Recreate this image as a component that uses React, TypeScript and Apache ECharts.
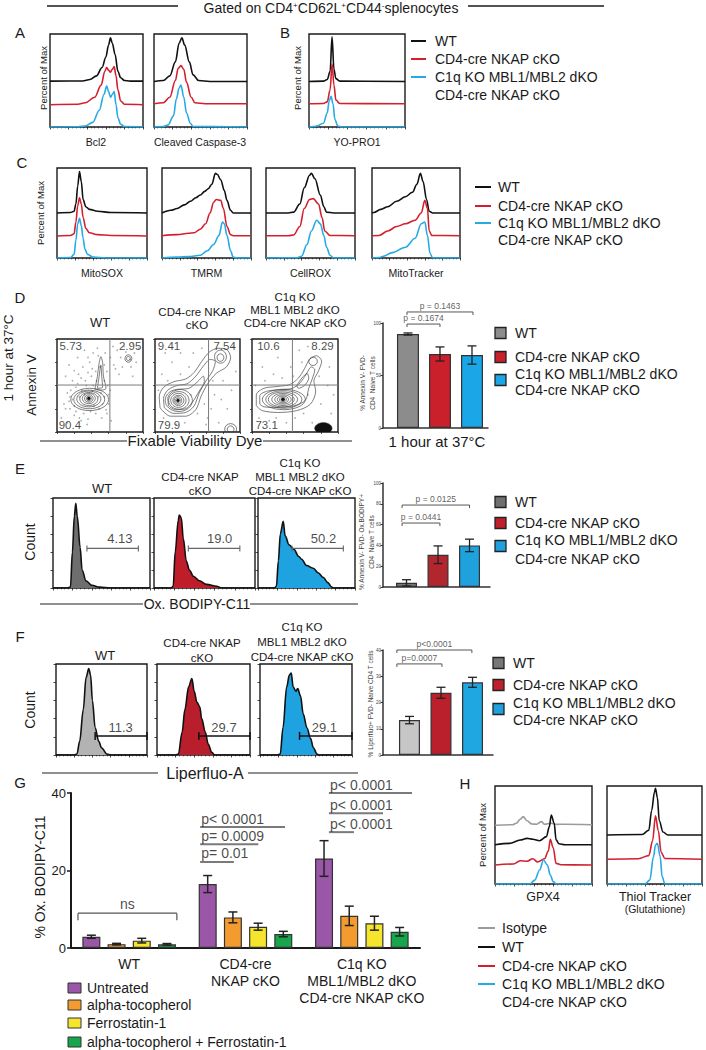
import React, { useEffect, useRef } from "react";
import * as echarts from "echarts";

const FONT = "'Liberation Sans', Arial, Helvetica, sans-serif";
const INK = "#1a1a1a";
const COL_WT = "#111111";
const COL_CKO = "#d3202e";
const COL_DKO = "#26aae3";
const COL_ISO = "#9b9b9b";

// ---------------- legends / titles ----------------
const GENO_LEGEND = [["WT"], ["CD4-cre NKAP cKO"], ["C1q KO MBL1/MBL2 dKO", "CD4-cre NKAP cKO"]];
const COL_TITLES = [["WT"], ["CD4-cre NKAP", "cKO"], ["C1q KO", "MBL1 MBL2 dKO", "CD4-cre NKAP cKO"]];

// ---------------- A / B : stacked histograms (x: % of axis, y: % of panel; WT offset 50, cKO offset 25) ----------------
const A_BCL2_WT = [[0, 49.3], [35, 49.5], [43, 51], [50, 55], [56, 64], [60, 75], [63, 88], [65, 96], [67, 90], [70, 78], [73, 60], [76, 53], [80, 50], [86, 49.3], [100, 49.3]];
const A_BCL2_CKO = [[0, 24], [30, 24.5], [38, 26], [48, 32], [55, 45], [59, 60], [61, 64], [63, 61], [65, 59], [67, 62], [69, 65], [71, 55], [73, 40], [76, 28], [80, 24.5], [100, 24]];
const A_BCL2_DKO = [[0, 0], [30, 0.3], [38, 1], [46, 5], [53, 18], [58, 35], [61, 44], [63, 38], [65, 32], [67, 35], [69, 38], [71, 24], [73, 10], [76, 3], [80, 0.5], [100, 0]];
const A_CASP_WT = [[0, 49], [10, 50], [17, 55], [23, 70], [27, 90], [30, 96], [33, 88], [38, 70], [42, 56], [48, 50], [60, 49], [100, 49]];
const A_CASP_CKO = [[0, 25], [10, 26], [17, 32], [23, 50], [26, 63], [29, 66], [32, 62], [35, 48], [40, 32], [44, 26], [55, 25], [100, 25]];
const A_CASP_DKO = [[0, 0], [10, 0.5], [15, 2], [21, 12], [24, 30], [27, 42], [29, 45], [32, 32], [35, 15], [39, 4], [42, 0.5], [100, 0]];
const B_YOPRO_WT = [[0, 49], [15, 49.3], [19, 51], [22, 60], [24, 97], [26, 62], [28, 52], [32, 49.3], [100, 49]];
const B_YOPRO_CKO = [[0, 25], [15, 25.3], [19, 27], [22, 40], [24, 68], [26, 45], [28, 29], [32, 25.2], [100, 25]];
const B_YOPRO_DKO = [[0, 0], [5, 0.5], [8, 1], [15, 4], [19, 15], [21, 28], [23, 33], [25, 25], [27, 8], [30, 1], [34, 0], [100, 0]];

// ---------------- C : stacked histograms ----------------
const C_MITOSOX_WT = [[0, 50], [15, 50.5], [19, 52], [21, 60], [23, 80], [25, 96], [27, 85], [29, 65], [32, 57], [36, 54], [45, 52], [60, 50.5], [100, 50]];
const C_MITOSOX_CKO = [[0, 24.5], [15, 25], [19, 27], [21, 40], [23, 58], [25, 67], [27, 60], [29, 45], [32, 33], [36, 28], [45, 26], [60, 25], [100, 24.5]];
const C_MITOSOX_DKO = [[0, 0], [15, 0.5], [19, 4], [21, 20], [23, 38], [25, 44], [27, 36], [29, 22], [31, 10], [34, 4], [40, 1], [55, 0], [100, 0]];
const C_TMRM_WT = [[0, 50], [10, 53], [17, 55], [25, 59], [32, 63], [38, 67], [43, 70], [48, 74], [52, 77], [56, 82], [60, 94], [62, 93], [66, 87], [70, 75], [73, 64], [77, 53], [80, 50], [100, 50]];
const C_TMRM_CKO = [[0, 24.8], [17, 26], [30, 27.5], [36, 28], [43, 32], [49, 38], [54, 50], [58, 62], [61, 65], [66, 64], [69, 55], [73, 35], [77, 26], [80, 24.8], [100, 24.8]];
const C_TMRM_DKO = [[0, 0], [17, 1], [30, 1.5], [43, 3], [51, 8], [58, 15], [64, 25], [68, 40], [70, 38], [73, 25], [77, 8], [80, 1], [84, 0], [100, 0]];
const C_CELLROX_WT = [[0, 50], [25, 50], [31, 51], [38, 60], [43, 78], [49, 92], [51, 94], [55, 88], [61, 70], [65, 57], [68, 51], [76, 50], [100, 50]];
const C_CELLROX_CKO = [[0, 24.8], [25, 24.8], [31, 25.5], [38, 35], [43, 55], [49, 65], [53, 66], [59, 60], [63, 45], [66, 30], [72, 25], [100, 24.8]];
const C_CELLROX_DKO = [[0, 0], [35, 0.3], [40, 2], [46, 15], [51, 30], [57, 42], [61, 38], [65, 25], [68, 12], [72, 3], [76, 0], [100, 0]];
const C_MITOTR_WT = [[0, 50], [2, 50.5], [10, 54], [18, 57], [28, 63], [38, 68], [46, 73], [51, 82], [55, 94], [58, 85], [62, 65], [65, 52], [69, 50], [100, 50]];
const C_MITOTR_CKO = [[0, 24.8], [8, 25], [18, 30], [28, 35], [38, 38], [49, 42], [56, 50], [60, 64], [63, 55], [65, 30], [68, 25], [100, 24.8]];
const C_MITOTR_DKO = [[0, 0], [8, 0.5], [13, 2], [23, 6], [38, 12], [49, 22], [56, 38], [60, 40], [63, 25], [66, 5], [69, 0], [100, 0]];

// ---------------- D : flow plots (x, y in % of axes) ----------------
const D_WT_RINGS = [[38, 35, 22, 12], [37.5, 35, 18, 10], [37, 35.5, 14, 8.5], [37, 35.5, 10.5, 7], [37, 36, 7.5, 5.5], [37, 36, 5, 4], [37, 36, 3, 2.6], [83, 79, 4, 4], [83, 79, 2.2, 2.2]];
const D_WT_CORE = [[37, 36, 1.8, 1.6]];
const D_WT_LOOPS = [
  [[44, 46], [47, 60], [49, 74], [51, 81], [53, 75], [54, 60], [57, 47], [50, 45], [44, 46]],
  [[47, 47], [49, 60], [51, 72], [52, 60], [53, 48], [47, 47]],
];
const D_WT_DOTS = [[8, 30], [12, 42], [15, 25], [18, 55], [20, 18], [22, 48], [25, 62], [28, 12], [30, 70], [33, 55], [35, 8], [40, 60], [42, 85], [45, 20], [47, 90], [52, 15], [55, 55], [58, 65], [60, 30], [63, 12], [10, 60], [14, 72], [24, 80], [32, 88], [38, 75], [56, 85], [66, 72], [70, 88], [74, 80], [78, 92], [86, 70], [90, 85], [88, 60], [72, 62], [5, 15], [48, 38], [26, 38], [18, 35], [62, 45], [42, 50], [20, 66], [36, 64], [58, 20], [12, 10],
  [10, 25], [14, 33], [16, 45], [20, 28], [22, 22], [24, 52], [26, 15], [29, 45], [31, 20], [34, 50], [36, 14], [39, 22], [41, 44], [43, 28], [46, 55], [49, 25], [51, 42], [53, 30], [55, 38], [57, 24], [59, 50], [60, 40], [28, 58], [32, 40], [15, 38], [45, 65], [50, 70], [41, 68], [36, 80], [48, 82], [55, 72], [62, 80], [68, 68], [76, 70], [80, 86], [85, 78], [92, 75], [95, 90], [88, 95], [65, 92]];
const D_WT_NUMS = [[16, 92, "5.73"], [85, 92, "2.95"], [15, 7, "90.4"]];

const D_CKO_RINGS = [[28, 34, 16, 12], [28, 34, 12, 9.5], [27.5, 34, 9, 7.5], [27.5, 34, 6.5, 5.5], [27, 34, 4.5, 4], [27, 34, 2.8, 2.5], [77, 81, 7, 7], [77, 80, 4, 4], [89, 3, 7, 6], [89, 3, 4, 3.5]];
const D_CKO_CORE = [[27, 34, 1.6, 1.4]];
const D_CKO_LOOPS = [
  [[6, 26], [5, 38], [10, 48], [22, 54], [36, 57], [46, 64], [55, 76], [64, 86], [74, 90], [84, 89], [89, 80], [84, 70], [72, 63], [62, 52], [54, 38], [48, 24], [36, 17], [18, 17], [6, 26]],
  [[11, 26], [10, 36], [15, 45], [26, 50], [38, 52], [48, 60], [57, 71], [65, 78], [71, 76], [68, 66], [60, 55], [52, 42], [46, 28], [36, 21], [22, 20], [11, 26]],
  [[16, 28], [15, 36], [20, 43], [30, 46], [40, 47], [50, 54], [57, 60], [58, 54], [52, 44], [44, 32], [36, 25], [24, 24], [16, 28]],
];
const D_CKO_DOTS = [[10, 15], [15, 55], [30, 62], [40, 70], [58, 30], [62, 15], [70, 40], [80, 55], [85, 25], [90, 45], [20, 75], [45, 85], [55, 90], [35, 10], [66, 25], [92, 92], [75, 10], [50, 20], [8, 62], [60, 8], [4, 45], [25, 8], [42, 40], [68, 55], [78, 35], [95, 65], [30, 85], [12, 85]];
const D_CKO_NUMS = [[16.5, 92, "9.41"], [82, 92, "7.54"], [16.5, 7, "79.9"]];

const D_DKO_RINGS = [[37, 35, 25, 11], [37, 35, 21, 9.5], [36, 35, 17, 8], [36, 35, 13, 6.5], [36, 35, 9.5, 5], [36, 35, 6.5, 3.8], [36, 35, 4, 2.6], [71, 76, 5, 4.5]];
const D_DKO_CORE = [[36, 35, 2.2, 1.6], [83, 4, 10, 6]];
const D_DKO_LOOPS = [
  [[5, 28], [5, 40], [14, 47], [30, 49], [44, 51], [54, 58], [61, 68], [67, 78], [75, 82], [81, 76], [77, 65], [72, 55], [74, 44], [68, 30], [52, 23], [30, 21], [12, 23], [5, 28]],
  [[9, 30], [9, 39], [18, 44], [34, 45.5], [47, 47], [56, 53], [63, 62], [69, 70], [73, 67], [70, 57], [66, 47], [62, 34], [48, 28], [28, 26.5], [14, 27], [9, 30]],
  [[52, 50], [58, 58], [64, 63], [66, 58], [61, 50], [54, 47], [52, 50]],
];
const D_DKO_DOTS = [[8, 15], [15, 55], [25, 62], [40, 10], [50, 15], [60, 20], [65, 40], [80, 30], [88, 50], [92, 20], [45, 70], [30, 80], [20, 12], [55, 88], [85, 90], [70, 10], [95, 40], [35, 58], [4, 50], [12, 70], [58, 75], [78, 60], [90, 70], [48, 60], [28, 15], [65, 92]];
const D_DKO_NUMS = [[19, 92, "10.6"], [82, 92, "8.29"], [17, 7, "73.1"]];

// D bar chart: % Annexin V- FVD- CD4 naive T cells
const D_VALUES = [89.5, 70.5, 69.5];
const D_SEM = [1, 6.7, 8.7];
const D_P_LINES = [[-0.03, 1.0, 99], [-0.03, 2.03, 110.5]];
const D_P_TEXT = ["p = 0.1674", "p = 0.1463"];

// ---------------- E : Ox. BODIPY-C11 ----------------
const E_WT = [[0, 0], [15, 0], [18, 1], [20, 40], [22, 80], [23.5, 94], [25, 80], [28, 45], [30, 20], [34, 8], [40, 3], [48, 1], [59, 0], [100, 0]];
const E_CKO = [[0, 0], [17, 0], [19, 2], [21, 40], [24, 75], [25, 81], [27, 78], [29, 55], [32, 30], [35, 20], [39, 13], [45, 8], [52, 4], [62, 2], [67, 0], [100, 0]];
const E_DKO = [[0, 0], [17, 0], [19, 2], [21, 30], [23, 60], [26, 74], [28, 58], [32, 48], [37, 43], [42, 35], [45, 32], [50, 25], [57, 22], [62, 17], [67, 12], [72, 6], [76, 1], [78, 0], [100, 0]];
const E_GATES = [[35, 88, 44], [34, 85, 44], [35, 88, 44]];
const E_GATE_TEXT = [[69, 55, "4.13"], [65, 55, "19.0"], [67.5, 55, "50.2"]];
const E_VALUES = [4, 31, 40];
const E_SEM = [3, 8.5, 6];
const E_P_LINES = [[-0.14, 1.06, 61.5], [-0.14, 2.0, 78.8]];
const E_P_TEXT = ["p = 0.0441", "p = 0.0125"];

// ---------------- F : Liperfluo ----------------
const F_WT = [[0, 0], [20, 0], [23, 1], [26, 15], [30, 50], [33, 85], [36, 95], [38, 88], [40, 60], [43, 30], [47, 15], [50, 8], [56, 1], [60, 0], [100, 0]];
const F_CKO = [[0, 0], [20, 0], [23, 1], [27, 25], [30, 50], [34, 75], [37.5, 84], [40, 70], [43, 58], [46, 53], [48, 40], [52, 25], [55, 12], [59, 3], [62, 0], [100, 0]];
const F_DKO = [[0, 0], [19, 0], [22, 1], [25, 30], [29, 75], [32, 88], [34, 90], [36, 75], [39, 70], [41, 73], [44, 65], [47, 45], [51, 30], [55, 18], [58, 8], [62, 1], [64, 0], [100, 0]];
const F_GATES = [[43, 100, 21], [45, 100, 21], [43, 100, 21]];
const F_GATE_TEXT = [[71, 30, "11.3"], [72, 30, "29.7"], [70, 30, "29.1"]];
const F_VALUES = [13.3, 23.7, 27.7];
const F_SEM = [1.4, 2.1, 1.9];
const F_P_LINES = [[-0.4, 1.03, 34.7], [-0.4, 1.98, 40]];
const F_P_TEXT = ["p=0.0007", "p<0.0001"];

// ---------------- G : % Ox. BODIPY-C11 with inhibitors ----------------
const G_GROUPS = ["WT", "CD4-cre\nNKAP cKO", "C1q KO\nMBL1/MBL2 dKO\nCD4-cre NKAP cKO"];
const G_TREATMENTS = ["Untreated", "alpha-tocopherol", "Ferrostatin-1", "alpha-tocopherol + Ferrostatin-1"];
const G_UNTREATED = [2.9, 16.5, 23.1];
const G_UNTREATED_SEM = [0.4, 2.2, 4.6];
const G_TOCO = [1.0, 7.9, 8.3];
const G_TOCO_SEM = [0.2, 1.4, 2.5];
const G_FERRO = [1.9, 5.5, 6.4];
const G_FERRO_SEM = [0.6, 0.9, 1.8];
const G_COMBO = [0.95, 3.6, 4.2];
const G_COMBO_SEM = [0.2, 0.7, 1.1];
const G_P_LINES = [[0.61, 0.9, 22.2], [0.61, 1.11, 26.8], [0.61, 1.34, 31.2], [1.717, 1.932, 29.9], [1.717, 2.182, 34.8], [1.717, 2.431, 40.0]];
const G_P_TEXT = ["p= 0.01", "p= 0.0009", "p< 0.0001", "p< 0.0001", "p< 0.0001", "p< 0.0001"];
const G_NS_LINE = [[-0.44, 0.41, 9.0]];

// ---------------- H : GPX4 / Thiol Tracker ----------------
const H_GPX4_ISO = [[0, 60], [18, 60.5], [22, 62], [26, 66], [29, 68.7], [33, 64.6], [38, 61.2], [43, 61], [48, 63.6], [51, 61], [58, 62], [63, 60.8], [70, 61], [100, 60.5]];
const H_GPX4_WT = [[0, 40], [15, 41.5], [26, 44.9], [33, 46.6], [39, 45.6], [46, 44.2], [53, 48.3], [56, 58.5], [58, 70.4], [61, 62], [63, 45], [66, 41], [72, 40], [100, 40]];
const H_GPX4_CKO = [[0, 19.4], [19, 20.4], [26, 23.8], [33, 23.2], [39, 25.8], [44, 22.5], [51, 25.8], [55, 33.6], [57, 45.5], [60, 37], [63, 21], [68, 19.6], [100, 19.4]];
const H_GPX4_DKO = [[0, 0], [36, 0], [41, 4], [46, 14.3], [50, 24.5], [54, 19.4], [57, 9.2], [60, 2.4], [63, 0], [100, 0]];
const H_THIOL_WT = [[0, 50], [37, 50.5], [44, 54.8], [47, 75], [50, 93.8], [51, 97.6], [53, 88.4], [55, 64.6], [59, 53], [64, 50], [100, 50]];
const H_THIOL_CKO = [[0, 25.2], [33, 25.8], [44, 29], [48, 44.2], [51, 69.7], [54, 54.4], [57, 32.3], [61, 26], [100, 25.2]];
const H_THIOL_DKO = [[0, 0], [40, 0], [45, 4], [49, 27.9], [51, 39.8], [53, 41.5], [56, 27.9], [58, 7.5], [61, 0], [100, 0]];
const H_LEGEND = [["Isotype"], ["WT"], ["CD4-cre NKAP cKO"], ["C1q KO MBL1/MBL2 dKO", "CD4-cre NKAP cKO"]];

function buildOption() {
  const grids: any[] = [];
  const xAxes: any[] = [];
  const yAxes: any[] = [];
  const series: any[] = [];
  const gfx: any[] = [];

  const baseAxis = (gi: number, extra: any = {}) => ({
    gridIndex: gi, type: "value", min: 0, max: 100,
    axisLine: { show: false, onZero: false }, axisLabel: { show: false },
    splitLine: { show: false }, axisTick: { show: false }, ...extra,
  });

  const addGrid = (box: number[], opt: any = {}) => {
    const gi = grids.length;
    grids.push({ left: box[0], top: box[1], width: box[2], height: box[3], show: opt.border !== false, borderColor: INK, borderWidth: 1.4, backgroundColor: "transparent" });
    const xi = xAxes.length;
    xAxes.push(opt.xAxis ? { gridIndex: gi, ...opt.xAxis } : baseAxis(gi, opt.xExtra));
    const yi = yAxes.length;
    yAxes.push(opt.yAxis ? { gridIndex: gi, ...opt.yAxis } : baseAxis(gi, opt.yExtra));
    return { g: gi, x: xi, y: yi };
  };

  const tickX = { interval: 20, axisTick: { show: true, length: 2.5, lineStyle: { color: INK, width: 0.8 } }, minorTick: { show: true, splitNumber: 5, length: 1.4, lineStyle: { color: INK, width: 0.6 } } };
  const tickY = { interval: 20, axisTick: { show: true, length: 2.5, lineStyle: { color: INK, width: 0.8 } } };

  const txt = (x: number, y: number, text: string, size: number, o: any = {}) => ({
    type: "text", x, y, rotation: o.rot || 0, silent: true, z: 100,
    style: {
      text, fill: o.color || INK, font: `${o.weight || "normal"} ${size}px ${FONT}`,
      textAlign: o.align || "center", textVerticalAlign: "middle", align: o.align || "center", verticalAlign: "middle",
    },
  });
  const seg = (x1: number, y1: number, x2: number, y2: number, color: string, lw: number) => ({
    type: "line", silent: true, z: 100, shape: { x1, y1, x2, y2 }, style: { stroke: color, lineWidth: lw },
  });
  const box = (x: number, y: number, w: number, h: number, fill: string) => ({
    type: "rect", silent: true, z: 100, shape: { x, y, width: w, height: h }, style: { fill, stroke: "#222", lineWidth: 1.3 },
  });

  const line = (a: any, data: number[][], color: string, width = 1.6, fill?: string) => {
    const s: any = {
      type: "line", xAxisIndex: a.x, yAxisIndex: a.y, data, symbol: "none", showSymbol: false,
      smooth: 0.35, smoothMonotone: "x", lineStyle: { color, width }, silent: true, z: 3,
    };
    if (fill) s.areaStyle = { color: fill, opacity: 1 };
    return s;
  };
  const loop = (a: any, data: number[][]) => ({
    type: "line", xAxisIndex: a.x, yAxisIndex: a.y, data, symbol: "none", showSymbol: false,
    smooth: 0.3, lineStyle: { color: "#2a2a2a", width: 0.6 }, silent: true, z: 4,
  });
  const straight = (a: any, data: number[][], color: string, width: number) => ({
    type: "line", xAxisIndex: a.x, yAxisIndex: a.y, data, symbol: "none", showSymbol: false,
    lineStyle: { color, width }, silent: true, z: 5,
  });
  const ellipses = (a: any, data: number[][], stroke: string, fill: string, lw: number) => ({
    type: "custom", xAxisIndex: a.x, yAxisIndex: a.y, data, clip: true, silent: true, z: 4,
    renderItem: (_p: any, api: any) => {
      const c = api.coord([api.value(0), api.value(1)]);
      const s = api.size([api.value(2), api.value(3)]);
      return { type: "ellipse", shape: { cx: c[0], cy: c[1], rx: s[0], ry: s[1] }, style: { fill, stroke, lineWidth: lw } };
    },
  });
  const errBars = (a: any, data: number[][], cap: number, color: string, lw: number) => ({
    type: "custom", xAxisIndex: a.x, yAxisIndex: a.y, data, silent: true, z: 6, clip: false,
    renderItem: (_p: any, api: any) => {
      const x = api.value(0);
      const lo = api.coord([x, api.value(1)]);
      const hi = api.coord([x, api.value(2)]);
      const h = cap / 2;
      const st = { stroke: color, lineWidth: lw, fill: "none" };
      return {
        type: "group", children: [
          { type: "line", shape: { x1: lo[0], y1: lo[1], x2: hi[0], y2: hi[1] }, style: st },
          { type: "line", shape: { x1: lo[0] - h, y1: lo[1], x2: lo[0] + h, y2: lo[1] }, style: st },
          { type: "line", shape: { x1: hi[0] - h, y1: hi[1], x2: hi[0] + h, y2: hi[1] }, style: st },
        ],
      };
    },
  });
  const bracket = (a: any, segs: number[][], o: any) => ({
    type: "custom", xAxisIndex: a.x, yAxisIndex: a.y, data: segs, silent: true, z: 6, clip: false,
    renderItem: (_p: any, api: any) => {
      const y = api.value(2);
      const p = api.coord([api.value(0), y]);
      const q = api.coord([api.value(1), y]);
      const st = { stroke: o.color, lineWidth: o.lw, fill: "none" };
      const ch: any[] = [{ type: "line", shape: { x1: p[0], y1: p[1], x2: q[0], y2: q[1] }, style: st }];
      if (o.down || o.up) {
        ch.push({ type: "line", shape: { x1: p[0], y1: p[1] - (o.up || 0), x2: p[0], y2: p[1] + (o.down || 0) }, style: st });
        ch.push({ type: "line", shape: { x1: q[0], y1: q[1] - (o.up || 0), x2: q[0], y2: q[1] + (o.down || 0) }, style: st });
      }
      return { type: "group", children: ch };
    },
  });
  const marks = (a: any, items: any[], size: number, o: any = {}) => ({
    type: "scatter", xAxisIndex: a.x, yAxisIndex: a.y, symbolSize: 1, silent: true, z: 9, clip: false,
    itemStyle: { color: "rgba(0,0,0,0)" },
    data: items.map((it: any) => ({
      value: [it[0], it[1]],
      label: {
        show: true, formatter: it[2], position: o.position || "inside", distance: o.distance ?? 1,
        align: o.align || "center", fontSize: size, color: o.color || INK, fontFamily: FONT,
      },
    })),
  });

  // ---------- header ----------
  gfx.push(seg(47, 6, 178, 6, INK, 1.3), seg(468, 6, 604, 6, INK, 1.3));
  gfx.push({
    type: "text", x: 331, y: 8, silent: true, z: 100,
    style: {
      text: "{n|Gated on CD4}{s|+}{n|CD62L}{s|+}{n|CD44}{s|-}{n|splenocytes}",
      rich: {
        n: { fontSize: 14, fontFamily: FONT, fill: INK, color: INK },
        s: { fontSize: 8, fontFamily: FONT, fill: INK, color: INK, verticalAlign: "top" },
      },
      textAlign: "center", textVerticalAlign: "middle", align: "center", verticalAlign: "middle",
    },
  });

  // panel letters
  ([["A", 20, 32], ["B", 285, 32], ["C", 22, 162], ["D", 20, 297], ["E", 20, 468], ["F", 20, 636], ["G", 20, 782], ["H", 465, 783]] as any[]).forEach(([l, x, y]) => gfx.push(txt(x, y, l, 15)));

  const lineLegend = (x1: number, x2: number, tx: number, rows: number[], colors: string[], labels: string[][], size = 14) => {
    let r = 0;
    labels.forEach((ls, i) => {
      gfx.push(seg(x1, rows[r], x2, rows[r], colors[i], 2));
      ls.forEach((l) => { gfx.push(txt(tx, rows[r], l, size, { align: "left" })); r++; });
    });
  };
  const squareLegend = (sx: number, tx: number, rows: number[], colors: string[], labels: string[][], sq = 11) => {
    let r = 0;
    labels.forEach((ls, i) => {
      const cy = ls.length > 1 ? rows[r] + 6 : rows[r];
      gfx.push(box(sx, cy - sq / 2, sq, sq, colors[i]));
      ls.forEach((l) => { gfx.push(txt(tx, rows[r], l, 14, { align: "left" })); r++; });
    });
  };

  const stacked = (b: number[], traces: any[]) => {
    const a = addGrid(b, { xExtra: tickX });
    traces.forEach(([d, c]) => series.push(line(a, d, c, 1.6)));
    return a;
  };

  // ---------- A & B ----------
  stacked([50, 34, 93, 93], [[A_BCL2_WT, COL_WT], [A_BCL2_CKO, COL_CKO], [A_BCL2_DKO, COL_DKO]]);
  stacked([154, 34, 93, 93], [[A_CASP_WT, COL_WT], [A_CASP_CKO, COL_CKO], [A_CASP_DKO, COL_DKO]]);
  stacked([309, 34, 96, 93], [[B_YOPRO_WT, COL_WT], [B_YOPRO_CKO, COL_CKO], [B_YOPRO_DKO, COL_DKO]]);
  gfx.push(txt(43, 78, "Percent of Max", 9.5, { rot: Math.PI / 2 }));
  gfx.push(txt(297, 78, "Percent of Max", 9.5, { rot: Math.PI / 2 }));
  gfx.push(txt(96, 142, "Bcl2", 10.5), txt(200, 142, "Cleaved Caspase-3", 10.5), txt(357, 142, "YO-PRO1", 10.5));
  lineLegend(411, 426, 435, [41, 59, 77, 95], [COL_WT, COL_CKO, COL_DKO], GENO_LEGEND);

  // ---------- C ----------
  const cBoxes = [[57, 168, 90, 90], [162, 168, 89, 90], [266, 168, 89, 90], [372, 168, 88, 90]];
  const cTraces = [
    [C_MITOSOX_WT, C_MITOSOX_CKO, C_MITOSOX_DKO],
    [C_TMRM_WT, C_TMRM_CKO, C_TMRM_DKO],
    [C_CELLROX_WT, C_CELLROX_CKO, C_CELLROX_DKO],
    [C_MITOTR_WT, C_MITOTR_CKO, C_MITOTR_DKO],
  ];
  const cLabels = ["MitoSOX", "TMRM", "CellROX", "MitoTracker"];
  cBoxes.forEach((b, i) => {
    stacked(b, [[cTraces[i][0], COL_WT], [cTraces[i][1], COL_CKO], [cTraces[i][2], COL_DKO]]);
    gfx.push(txt(b[0] + b[2] / 2, 273, cLabels[i], 10.5));
  });
  gfx.push(txt(40, 213, "Percent of Max", 9.5, { rot: Math.PI / 2 }));
  lineLegend(475, 491, 498, [187, 206, 223, 240], [COL_WT, COL_CKO, COL_DKO], GENO_LEGEND);

  // ---------- D flow ----------
  const flowTicks = { xExtra: { interval: 20, axisTick: { show: true, length: 2, lineStyle: { color: INK, width: 0.7 } } }, yExtra: { interval: 25, axisTick: { show: true, length: 2, lineStyle: { color: INK, width: 0.7 } } } };
  const flow = (b: number[], rings: number[][], cores: number[][], loops: number[][][], dots: number[][], qx: number, qy: number, nums: any[]) => {
    const a = addGrid(b, flowTicks);
    series.push({ type: "scatter", xAxisIndex: a.x, yAxisIndex: a.y, data: dots, symbolSize: 1.7, itemStyle: { color: "#999999" }, silent: true, z: 2 });
    series.push(ellipses(a, rings, "#2a2a2a", "none", 0.6));
    series.push(ellipses(a, cores, "#111", "#111", 0.6));
    loops.forEach((l) => series.push(loop(a, l)));
    series.push(straight(a, [[qx, 0], [qx, 100]], "#7a7a7a", 1));
    series.push(straight(a, [[0, qy], [100, qy]], "#7a7a7a", 1));
    series.push(marks(a, nums, 11.5));
  };
  flow([57, 339, 86, 93], D_WT_RINGS, D_WT_CORE, D_WT_LOOPS, D_WT_DOTS, 61.5, 50.5, D_WT_NUMS);
  flow([155, 339, 85, 93], D_CKO_RINGS, D_CKO_CORE, D_CKO_LOOPS, D_CKO_DOTS, 63, 50.5, D_CKO_NUMS);
  flow([252, 339, 86, 93], D_DKO_RINGS, D_DKO_CORE, D_DKO_LOOPS, D_DKO_DOTS, 47, 50.5, D_DKO_NUMS);

  const colTitles = (cx: number[], ys: number[][], wtSize: number) => {
    COL_TITLES.forEach((ls, i) => ls.forEach((l, j) => gfx.push(txt(cx[i], ys[i][j], l, i === 0 ? wtSize : 11.5))));
  };
  colTitles([100, 197, 295], [[322], [312, 325], [297, 310, 323]], 13);
  gfx.push(txt(8, 358, "1 hour at 37°C", 13.5, { rot: Math.PI / 2 }));
  gfx.push(txt(31, 385, "Annexin V", 13.5, { rot: Math.PI / 2 }));
  gfx.push(seg(40, 441, 127, 441, "#6b6b6b", 1.5), seg(263, 441, 352, 441, "#6b6b6b", 1.5));
  gfx.push(txt(195, 440, "Fixable Viability Dye", 15));

  // ---------- bar panels D, E, F ----------
  const barPanel = (b: number[], xr: number[], ymax: number, yint: number, vals: number[], sem: number[], fills: string[], pl: number[][], pt: string[], bw: number) => {
    const a = addGrid(b, {
      border: false,
      xAxis: { type: "value", min: xr[0], max: xr[1], axisLine: { show: true, onZero: false, lineStyle: { color: "#333", width: 1.5 } }, axisTick: { show: false }, axisLabel: { show: false }, splitLine: { show: false } },
      yAxis: { type: "value", min: 0, max: ymax, interval: yint, axisLine: { show: true, onZero: false, lineStyle: { color: "#333", width: 1.5 } }, axisTick: { show: true, length: 2.5, lineStyle: { color: "#333", width: 1 } }, axisLabel: { show: true, fontSize: 4.5, color: "#444", margin: 2, fontFamily: FONT }, splitLine: { show: false } },
    });
    series.push({
      type: "bar", xAxisIndex: a.x, yAxisIndex: a.y, barWidth: bw, silent: true, z: 3,
      data: vals.map((v, i) => ({ value: [i, v], itemStyle: { color: fills[i], borderColor: "#333", borderWidth: 1.2 } })),
    });
    series.push(errBars(a, vals.map((v, i) => [i, v - sem[i], v + sem[i]]), 9, "#222", 1.3));
    series.push(bracket(a, pl, { color: "#555", lw: 1, down: 3 }));
    series.push(marks(a, pl.map((s, i) => [(s[0] + s[1]) / 2, s[2], pt[i]]), 8.5, { position: "top", distance: 1, color: "#333" }));
    return a;
  };
  barPanel([383, 323, 105, 105], [-0.78, 2.5], 100, 50, D_VALUES, D_SEM, ["#8c8c8c", "#c9202c", "#1ba6e7"], D_P_LINES, D_P_TEXT, 22);
  gfx.push(txt(437, 441, "1 hour at 37°C", 15));
  gfx.push(txt(362, 383, "% Annexin V- FVD-", 6.5, { rot: Math.PI / 2, color: "#444" }));
  gfx.push(txt(372, 383, "CD4  Naive T cells", 6.5, { rot: Math.PI / 2, color: "#444" }));
  squareLegend(495, 515, [333, 357, 374, 390], ["#8c8c8c", "#c9202c", "#1ba6e7"], GENO_LEGEND);

  // ---------- E ----------
  const eBoxes = [[53, 498, 97, 90], [154, 498, 101, 90], [258, 498, 97, 90]];
  const eData = [[E_WT, "#6e6e6e"], [E_CKO, "#c01d2a"], [E_DKO, "#1ea3e0"]];
  eBoxes.forEach((b, i) => {
    const a = addGrid(b, { xExtra: tickX, yExtra: tickY });
    series.push(line(a, eData[i][0] as number[][], "#111", 1.6, eData[i][1] as string));
    series.push(bracket(a, [E_GATES[i]], { color: "#666", lw: 1.1, up: 3, down: 3 }));
    series.push(marks(a, [E_GATE_TEXT[i]], 13));
  });
  colTitles([102, 200, 300], [[488], [477, 491], [463, 477, 491]], 13);
  gfx.push(txt(30, 542, "Count", 14, { rot: Math.PI / 2 }));
  gfx.push(seg(40, 604, 143, 604, "#6b6b6b", 1.5), seg(250, 604, 358, 604, "#6b6b6b", 1.5));
  gfx.push(txt(197, 604, "Ox. BODIPY-C11", 14));
  barPanel([383, 483, 107, 104], [-0.746, 2.65], 100, 20, E_VALUES, E_SEM, ["#777777", "#b2272e", "#1fa1de"], E_P_LINES, E_P_TEXT, 21);
  gfx.push(txt(361, 542, "% Annexin V- FVD- Ox.BODIPY+", 6.5, { rot: Math.PI / 2, color: "#444" }));
  gfx.push(txt(371, 542, "CD4  Naive T cells", 6.5, { rot: Math.PI / 2, color: "#444" }));
  squareLegend(495, 515, [502, 523, 540, 559], ["#6f6f6f", "#c0202b", "#1fa1de"], GENO_LEGEND);

  // ---------- F ----------
  const fBoxes = [[56, 664, 91, 91], [157, 664, 93, 91], [260, 664, 92, 91]];
  const fData = [[F_WT, "#b3b3b3"], [F_CKO, "#b91e2c"], [F_DKO, "#1ea3e0"]];
  fBoxes.forEach((b, i) => {
    const a = addGrid(b, { xExtra: tickX, yExtra: tickY });
    series.push(line(a, fData[i][0] as number[][], "#111", 1.6, fData[i][1] as string));
    series.push(bracket(a, [F_GATES[i]], { color: "#111", lw: 1.5, up: 4, down: 4 }));
    series.push(marks(a, [F_GATE_TEXT[i]], 13));
  });
  colTitles([105, 202, 302], [[655], [643, 658], [627, 642, 657]], 13);
  gfx.push(txt(30, 710, "Count", 14, { rot: Math.PI / 2 }));
  gfx.push(seg(42, 773, 158, 773, "#6b6b6b", 1.5), seg(248, 773, 358, 773, "#6b6b6b", 1.5));
  gfx.push(txt(205, 773, "Liperfluo-A", 16));
  barPanel([383, 650, 110, 105], [-0.84, 2.65], 40, 10, F_VALUES, F_SEM, ["#c6c6c6", "#b9202c", "#1fa7e1"], F_P_LINES, F_P_TEXT, 21);
  gfx.push(txt(370, 704, "% Liperfluo+ FVD- Naive CD4 T cells", 6.5, { rot: Math.PI / 2, color: "#444" }));
  squareLegend(493, 513, [663, 685, 703, 720], ["#777777", "#c0202b", "#1fa1de"], GENO_LEGEND);

  // ---------- G ----------
  const gA = addGrid([71, 793, 349, 155], {
    border: false,
    xAxis: { type: "category", data: G_GROUPS, axisLine: { show: true, onZero: false, lineStyle: { color: INK, width: 2 } }, axisTick: { show: false }, axisLabel: { show: true, interval: 0, fontSize: 14, lineHeight: 17, margin: 7, color: INK, fontFamily: FONT }, splitLine: { show: false } },
    yAxis: { type: "value", min: 0, max: 40, interval: 20, axisLine: { show: true, onZero: false, lineStyle: { color: INK, width: 2 } }, axisTick: { show: true, length: 4, lineStyle: { color: INK, width: 1.5 } }, axisLabel: { show: true, fontSize: 13, margin: 5, color: INK, fontFamily: FONT }, splitLine: { show: false } },
  });
  const gValX = xAxes.length;
  xAxes.push({ gridIndex: gA.g, type: "value", min: -0.5, max: 2.5, show: false });
  const gV = { x: gValX, y: gA.y };
  const G_COLORS = ["#9b57a7", "#f49b30", "#f5e52c", "#17a64b"];
  const gVals = [G_UNTREATED, G_TOCO, G_FERRO, G_COMBO];
  const gSem = [G_UNTREATED_SEM, G_TOCO_SEM, G_FERRO_SEM, G_COMBO_SEM];
  const BW = 18, GAP = 0.4, CATW = 349 / 3;
  gVals.forEach((vals, j) => {
    series.push({
      type: "bar", name: G_TREATMENTS[j], xAxisIndex: gA.x, yAxisIndex: gA.y, data: vals, barWidth: BW, barGap: `${GAP * 100}%`, silent: true, z: 3,
      itemStyle: { color: G_COLORS[j], borderColor: "#333", borderWidth: 1.2 },
    });
    const off = ((j - 1.5) * BW * (1 + GAP)) / CATW;
    series.push(errBars(gV, vals.map((v, i) => [i + off, v - gSem[j][i], v + gSem[j][i]]), 9, "#222", 1.5));
  });
  series.push(bracket(gV, G_P_LINES, { color: "#7a7a7a", lw: 2 }));
  series.push(marks(gV, G_P_LINES.map((s, i) => [s[0] + 0.01, s[2], G_P_TEXT[i]]), 14, { position: "top", align: "left", distance: 1, color: INK }));
  series.push(bracket(gV, G_NS_LINE, { color: "#555", lw: 1.2, down: 7 }));
  series.push(marks(gV, [[(G_NS_LINE[0][0] + G_NS_LINE[0][1]) / 2, G_NS_LINE[0][2], "ns"]], 14, { position: "top", distance: 2 }));
  gfx.push(txt(40, 877, "% Ox. BODIPY-C11", 14, { rot: Math.PI / 2 }));
  G_TREATMENTS.forEach((t, j) => {
    const y = [988, 1005, 1023, 1042][j];
    gfx.push({ type: "rect", silent: true, z: 100, shape: { x: 68, y: y - 5, width: 13, height: 10 }, style: { fill: G_COLORS[j], stroke: "#333", lineWidth: 1 } });
    gfx.push(txt(87, y, t, 14, { align: "left" }));
  });

  // ---------- H ----------
  stacked([495, 786, 97, 98], [[H_GPX4_ISO, COL_ISO], [H_GPX4_WT, COL_WT], [H_GPX4_CKO, COL_CKO], [H_GPX4_DKO, COL_DKO]]);
  stacked([607, 786, 95, 98], [[H_THIOL_WT, COL_WT], [H_THIOL_CKO, COL_CKO], [H_THIOL_DKO, COL_DKO]]);
  gfx.push(txt(482, 835, "Percent of Max", 9.5, { rot: Math.PI / 2 }));
  gfx.push(txt(543, 897, "GPX4", 12.5), txt(655, 897, "Thiol Tracker", 12.5), txt(655, 909, "(Glutathione)", 10.5));
  lineLegend(478, 495, 502, [928, 947, 966, 984, 1002], [COL_ISO, COL_WT, COL_CKO, COL_DKO], H_LEGEND);

  return {
    animation: false,
    backgroundColor: "#ffffff",
    textStyle: { fontFamily: FONT },
    grid: grids,
    xAxis: xAxes,
    yAxis: yAxes,
    series,
    graphic: { elements: gfx },
  };
}

export default function App() {
  const ref = useRef<HTMLDivElement>(null);
  useEffect(() => {
    document.body.style.margin = "0";
    const el = ref.current;
    if (!el) return;
    const chart = echarts.init(el, undefined, { renderer: "svg" });
    chart.setOption(buildOption() as any);
    return () => chart.dispose();
  }, []);
  return <div ref={ref} style={{ width: 706, height: 1050, background: "#ffffff" }} />;
}
